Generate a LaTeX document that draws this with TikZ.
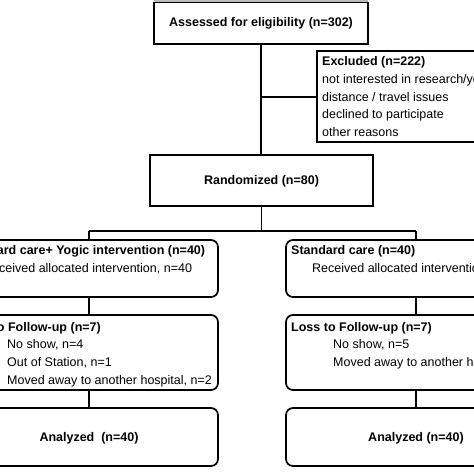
\documentclass[tikz,border=0pt]{standalone}
\usepackage{fontspec}
\setmainfont{Liberation Sans}
\begin{document}
\begin{tikzpicture}[x=1pt,y=-1pt,
  every node/.style={font=\fontsize{12.5}{15}\selectfont},
  sbox/.style={draw,line width=1.7pt,inner sep=0pt,outer sep=0pt,anchor=north west},
  rbox/.style={sbox,rounded corners=7pt},
  lbl/.style={inner sep=0pt,anchor=base west},
  conn/.style={line width=1.7pt}]
\useasboundingbox (0,0) rectangle (474,474);
\clip (0,0) rectangle (474,474);
\fill[gray!55] (154,0) rectangle (368,2);
% boxes
\node[sbox,minimum width=214pt,minimum height=41.5pt] (a) at (154,2.5) {};
\node (at) at (261,23) {\bfseries Assessed for eligibility (n=302)};
\node[sbox,minimum width=243pt,minimum height=91pt] (ex) at (317,51) {};
\node[lbl] (ex0) at (322,65.5) {\bfseries Excluded (n=222)};
\node[lbl] (ex1) at (322,83.3) {not interested in research/yoga};
\node[lbl] (ex2) at (322,101.1) {distance / travel issues};
\node[lbl] (ex3) at (322,118.9) {declined to participate};
\node[lbl] (ex4) at (322,136.7) {other reasons};
\node[sbox,minimum width=223pt,minimum height=51pt] (r) at (150,155) {};
\node (rt) at (261.5,181) {\bfseries Randomized (n=80)};
% left arm
\node[rbox,minimum width=261pt,minimum height=57pt] (l1) at (-43,240) {};
\node[lbl] (l1a) at (-38,254.5) {\bfseries Standard care+ Yogic intervention (n=40)};
\node[lbl] (l1b) at (-17,272.3) {Received allocated intervention, n=40};
\node[rbox,minimum width=261pt,minimum height=75pt] (l2) at (-43,315) {};
\node[lbl] (l2a) at (-40,331) {\bfseries Loss to Follow-up (n=7)};
\node[lbl] (l2b) at (7,348.8) {No show, n=4};
\node[lbl] (l2c) at (7,366.6) {Out of Station, n=1};
\node[lbl] (l2d) at (7,384.4) {Moved away to another hospital, n=2};
\node[rbox,minimum width=261pt,minimum height=58pt] (l3) at (-43,408) {};
\node (l3t) at (89,438) {\bfseries Analyzed\ \ (n=40)};
% right arm
\node[rbox,minimum width=261pt,minimum height=57pt] (r1) at (286,240) {};
\node[lbl] (r1a) at (291,254.5) {\bfseries Standard care (n=40)};
\node[lbl] (r1b) at (312,272.3) {Received allocated intervention, n=40};
\node[rbox,minimum width=261pt,minimum height=75pt] (r2) at (286,315) {};
\node[lbl] (r2a) at (291,331) {\bfseries Loss to Follow-up (n=7)};
\node[lbl] (r2b) at (333,348.8) {No show, n=5};
\node[lbl] (r2c) at (333,366.6) {Moved away to another hospital, n=2};
\node[rbox,minimum width=261pt,minimum height=58pt] (r3) at (286,408) {};
\node (r3t) at (416,438) {\bfseries Analyzed (n=40)};
% connectors
\coordinate (j1) at (261,97);
\coordinate (j2) at (261.5,231);
\coordinate (jl) at (89,231);
\coordinate (jr) at (416,231);
\draw[conn] (a.south -| j1) -- (r.north -| j1);
\draw[conn] (j1) -- (j1 -| ex.west);
\draw[conn] (r.south -| j2) -- (j2);
\draw[conn] (jl) -- (jr);
\draw[conn] (jl) -- (l1.north -| jl);
\draw[conn] (jr) -- (r1.north -| jr);
\draw[conn] (l1.south -| jl) -- (l2.north -| jl);
\draw[conn] (l2.south -| jl) -- (l3.north -| jl);
\draw[conn] (r1.south -| jr) -- (r2.north -| jr);
\draw[conn] (r2.south -| jr) -- (r3.north -| jr);
\end{tikzpicture}
\end{document}
